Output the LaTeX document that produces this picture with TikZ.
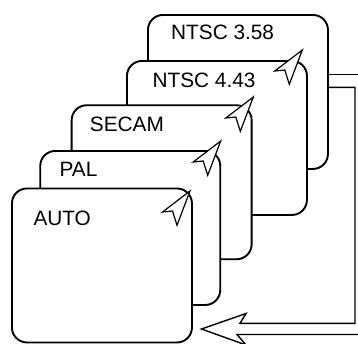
\documentclass[tikz,border=0pt]{standalone}
\usepackage{fontspec}
\setmainfont{Liberation Sans}
\begin{document}
\begin{tikzpicture}[x=1pt,y=-1pt,
  card/.style={draw=black,fill=white,line width=1.9pt,rounded corners=15pt,
    rectangle,anchor=north west,inner sep=0pt,minimum width=180pt,minimum height=154pt},
  lbl/.style={anchor=base west,inner sep=0pt,font=\fontsize{20.8}{24}\selectfont},
  cursor/.style={draw=black,fill=white,line width=1.2pt,line join=miter},
  conn/.style={draw=black,line width=1.4pt,line join=miter}]
\useasboundingbox (0,0) rectangle (358,343);
\clip (0,0) rectangle (358,343);
% cards, back to front
\node[card] (c358) at (147,14) {};
\node[lbl] (t358) at (171,39.5) {NTSC 3.58};
\node[card] (c443) at (126,60) {};
\node[lbl] (t443) at (152.4,87) {NTSC 4.43};
\node[card] (csec) at (70.7,104.3) {};
\node[lbl] (tsec) at (89.7,131.5) {SECAM};
\node[card] (cpal) at (39.3,150) {};
\node[lbl] (tpal) at (59.4,176) {PAL};
\node[card] (caut) at (11,187.5) {};
\node[lbl] (taut) at (33.3,225) {AUTO};
% cursors
\foreach \tx/\ty in {302.3/50, 253.3/97, 220.7/141, 190/191}{
  \draw[cursor] (\tx,\ty) -- ++(-27.5,21) -- ++(10,-1) -- ++(4.5,14.3) -- cycle;
}
% connector (hollow return arrow)
\coordinate (outA) at (358,74.5);
\coordinate (inA) at (355,87.3);
\coordinate (outB) at (358,334.5);
\coordinate (tip) at (201.5,329);
\draw[conn] (c358.north east |- outA) -- (outA);
\draw[conn] (outB) -- (237,334.5) -- (246,345) -- (tip) -- (246,313.5)
  -- (240,323.3) -- (inA |- 0,323.3) -- (inA) -- (c358.north east |- inA);
\end{tikzpicture}
\end{document}
